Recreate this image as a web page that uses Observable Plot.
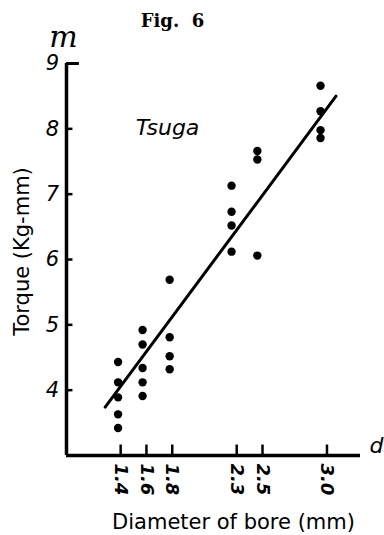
<!DOCTYPE html>
<html>
<head>
<meta charset="utf-8">
<script src="https://cdn.jsdelivr.net/npm/d3@7"></script>
<script src="https://cdn.jsdelivr.net/npm/@observablehq/plot@0.6"></script>
<style>
  html, body { margin: 0; padding: 0; background: #fff; }
</style>
</head>
<body>
<div id="chart"></div>
<script>
// Data
const xTicks = [1.4, 1.6, 1.8, 2.3, 2.5, 3.0];
const xTickLabels = ["1.4", "1.6", "1.8", "2.3", "2.5", "3.0"];
const yTicks = [4, 5, 6, 7, 8, 9];

// measured positions of each column of dots (diameter, mm)
const dotX = [1.38, 1.57, 1.78, 2.26, 2.46, 2.95];
// torque values (Kg-mm) per column
const torque14 = [4.43, 4.12, 3.89, 3.63, 3.42];
const torque16 = [4.92, 4.70, 4.34, 4.12, 3.91];
const torque18 = [5.69, 4.81, 4.52, 4.32];
const torque23 = [7.13, 6.73, 6.52, 6.12];
const torque25 = [7.66, 7.53, 6.06];
const torque30 = [8.66, 8.27, 7.98, 7.86];

// fitted line end points
const fitX = [1.28, 3.07];
const fitY = [3.74, 8.50];

const xDomain = [0.98, 3.26];
const yDomain = [3, 9];

const columns = [torque14, torque16, torque18, torque23, torque25, torque30];
const dots = columns.flatMap((vals, i) => vals.map(v => ({d: dotX[i], t: v})));
const fit = fitX.map((x, i) => ({d: x, t: fitY[i]}));

const hand = "'DejaVu Sans', sans-serif";

const chart = Plot.plot({
  width: 384,
  height: 535,
  marginLeft: 66,
  marginRight: 24,
  marginTop: 63,
  marginBottom: 80,
  style: {background: "#fff", fontFamily: hand, color: "#000"},
  x: {domain: xDomain, axis: null},
  y: {domain: yDomain, axis: null},
  marks: [
    // axes lines
    Plot.ruleX([xDomain[0]], {y1: yDomain[0], y2: yDomain[1], stroke: "#000", strokeWidth: 3.5}),
    Plot.ruleY([yDomain[0]], {x1: xDomain[0], x2: xDomain[1], stroke: "#000", strokeWidth: 3.5}),
    // y ticks (inside)
    Plot.ruleY(yTicks, {x1: xDomain[0], x2: xDomain[0] + 0.05, stroke: "#000", strokeWidth: 2.5}),
    Plot.ruleY([yDomain[1]], {x1: xDomain[0], x2: xDomain[0] + 0.1, stroke: "#000", strokeWidth: 3}),
    // x ticks (inside)
    Plot.ruleX(xTicks, {y1: yDomain[0], y2: yDomain[0] + 0.16, stroke: "#000", strokeWidth: 2.5}),
    // y tick labels
    Plot.text(yTicks, {x: xDomain[0], y: d => d, text: d => String(d), dx: -14, textAnchor: "middle",
      fontSize: 21, fontStyle: "italic", fill: "#000"}),
    // x tick labels rotated
    Plot.text(xTicks, {x: d => d, y: yDomain[0], text: (d, i) => xTickLabels[i], rotate: 90,
      textAnchor: "start", lineAnchor: "middle", dy: 8, fontSize: 18, fontWeight: "bold",
      fontStyle: "italic", fill: "#000"}),
    // regression line
    Plot.line(fit, {x: "d", y: "t", stroke: "#000", strokeWidth: 3}),
    // dots
    Plot.dot(dots, {x: "d", y: "t", r: 4.2, fill: "#000", stroke: "none"}),
    // annotations
    Plot.text(["Tsuga"], {frameAnchor: "top-left", dx: 101, dy: 56, fontSize: 22,
      fontStyle: "italic", textAnchor: "middle", fill: "#000"}),
    Plot.text(["m"], {frameAnchor: "top-left", dx: -3, dy: -38, fontSize: 30,
      fontFamily: "'DejaVu Serif', serif", fontStyle: "italic", textAnchor: "middle", fill: "#000"}),
    Plot.text(["Fig.\u00a0\u00a06"], {frameAnchor: "top-left", dx: 106, dy: -49, fontSize: 18,
      fontFamily: "'DejaVu Serif', serif", fontWeight: "bold", textAnchor: "middle", fill: "#000"}),
    Plot.text(["d"], {frameAnchor: "bottom-right", dx: 16, dy: -3, fontSize: 22,
      fontStyle: "italic", textAnchor: "middle", fill: "#000"}),
    // axis titles
    Plot.text(["Torque (Kg-mm)"], {frameAnchor: "left", dx: -44, dy: -8, rotate: -90,
      fontSize: 21, textAnchor: "middle", fill: "#000"}),
    Plot.text(["Diameter of bore (mm)"], {frameAnchor: "bottom", dx: 20, dy: 67,
      fontSize: 21, textAnchor: "middle", lineAnchor: "middle", fill: "#000"})
  ]
});
document.getElementById("chart").appendChild(chart);
</script>
</body>
</html>
